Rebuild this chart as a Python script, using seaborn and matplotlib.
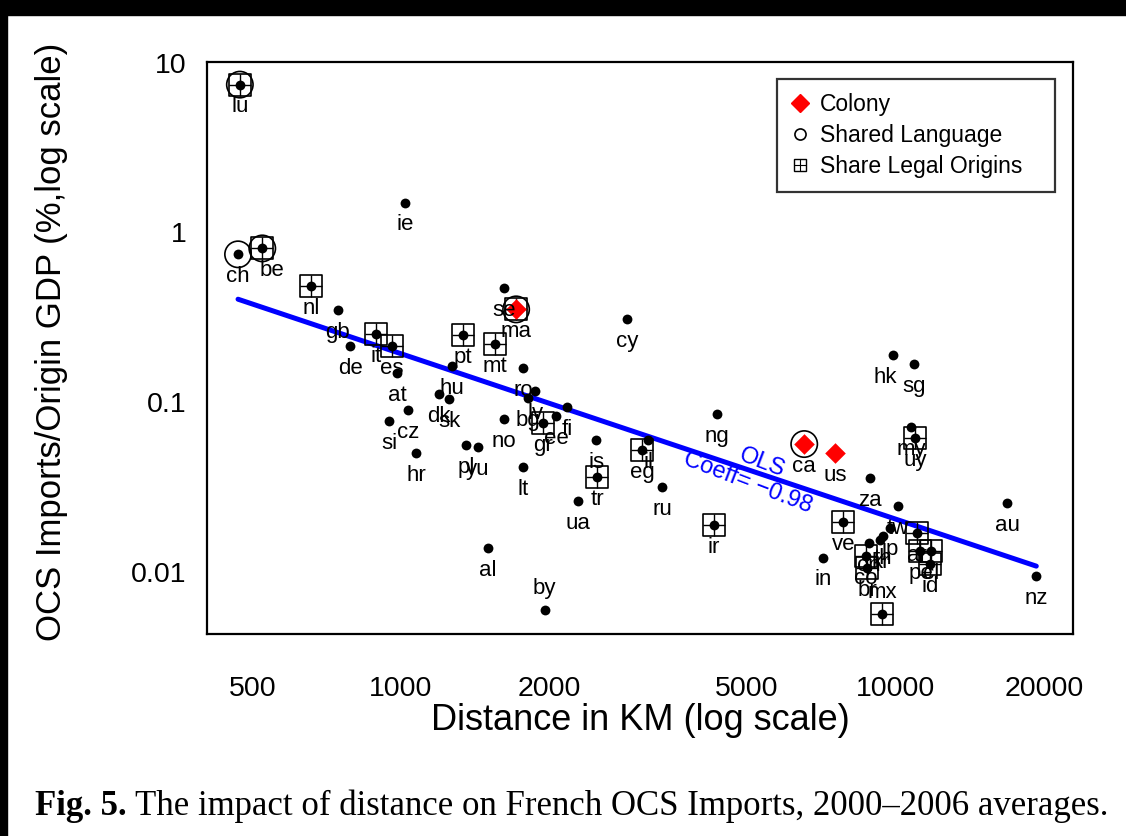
import matplotlib
matplotlib.use('Agg')
import numpy as np
import pandas as pd
import matplotlib.pyplot as plt
import seaborn as sns
from matplotlib.lines import Line2D
from matplotlib.patches import Rectangle
from matplotlib.legend_handler import HandlerTuple

sns.set_style('white')
plt.rcParams['font.family'] = ['Liberation Sans', 'DejaVu Sans']
plt.rcParams['text.color'] = 'black'
plt.rcParams['axes.labelcolor'] = 'black'
plt.rcParams['xtick.color'] = 'black'
plt.rcParams['ytick.color'] = 'black'

# Datos
codes = ['lu', 'ie', 'ch', 'be', 'nl', 'gb', 'de', 'it', 'es', 'at',
         'pt', 'mt', 'se', 'ma', 'hu', 'dk', 'sk', 'cz', 'si', 'hr',
         'pl', 'yu', 'no', 'ro', 'lv', 'bg', 'gr', 'ee', 'fi', 'lt',
         'cy', 'is', 'tr', 'ua', 'al', 'by', 'eg', 'il', 'ru', 'ng',
         'ir', 'ca', 'us', 'za', 've', 'in', 'hk', 'sg', 'my', 'uy',
         'au', 'nz', 'tw', 'jp', 'th', 'kr', 'cn', 'co', 'br', 'mx',
         'ar', 'pe', 'cl', 'id']
dist_km = [472, 1019, 468, 524, 658, 745, 789, 890, 959, 982,
           1336, 1549, 1616, 1710, 1268, 1194, 1251, 1033, 946, 1072,
           1355, 1432, 1617, 1765, 1868, 1808, 1937, 2059, 2168, 1765,
           2866, 2484, 2494, 2282, 1500, 1954, 3076, 3163, 3374, 4365,
           4290, 6546, 7563, 8897, 7853, 7140, 9910, 10920, 10770, 10970,
           16870, 19280, 10140, 9770, 9460, 9330, 8850, 8730, 8770, 9420,
           11080, 11250, 11830, 11780]
ocs_imports = [7.43, 1.50, 0.743, 0.805, 0.481, 0.348, 0.213, 0.251, 0.213, 0.148,
               0.248, 0.219, 0.469, 0.352, 0.163, 0.111, 0.104, 0.0897, 0.0773, 0.0501,
               0.0559, 0.0543, 0.0794, 0.158, 0.116, 0.1056, 0.0752, 0.0828, 0.0935, 0.0415,
               0.308, 0.0597, 0.0362, 0.0262, 0.0138, 0.00597, 0.0522, 0.0597, 0.0316, 0.0850,
               0.0189, 0.0566, 0.0501, 0.0357, 0.0197, 0.0121, 0.189, 0.168, 0.0713, 0.0614,
               0.0255, 0.00946, 0.0244, 0.0182, 0.0163, 0.0154, 0.0148, 0.0124, 0.01056, 0.00566,
               0.0169, 0.0133, 0.0133, 0.01115]
colony_codes = ['ma', 'ca', 'us']
shared_lang_codes = ['lu', 'ch', 'be', 'ma', 'ca']
legal_origin_codes = ['lu', 'be', 'nl', 'it', 'es', 'pt', 'mt', 'ma', 'gr', 'tr',
                      'eg', 'ir', 've', 'uy', 'co', 'br', 'mx', 'ar', 'pe', 'cl', 'id']
label_above = ['by', 'mx']
label_nudge_x = {'be': 7, 'hk': -6}

# Recta MCO (extremos)
ols_x = [468, 19300]
ols_y = [0.404, 0.0108]

xticks = [500, 1000, 2000, 5000, 10000, 20000]
yticks = [0.01, 0.1, 1, 10]
ytick_labels = ['0.01', '0.1', '1', '10']

df = pd.DataFrame({'code': codes, 'dist': dist_km, 'imp': ocs_imports})
df['colony'] = df['code'].isin(colony_codes)
df['lang'] = df['code'].isin(shared_lang_codes)
df['legal'] = df['code'].isin(legal_origin_codes)

fig = plt.figure(figsize=(11.26, 8.36), dpi=100)
ax = fig.add_axes([207 / 1126, 1 - 634 / 836, 866 / 1126, 572 / 836])
ax.set_xscale('log')
ax.set_yscale('log')

# Linea OLS
sns.lineplot(x=ols_x, y=ols_y, color='blue', linewidth=3.6, ax=ax, zorder=2)

# Puntos
sns.scatterplot(data=df[~df['colony']], x='dist', y='imp', color='black', s=50,
                linewidth=0, ax=ax, zorder=4)
sns.scatterplot(data=df[df['colony']], x='dist', y='imp', color='red', marker='D', s=110,
                linewidth=0, ax=ax, zorder=4)
sns.scatterplot(data=df[df['legal']], x='dist', y='imp', marker='s', s=250,
                facecolor='none', edgecolor='black', linewidth=1.2, ax=ax, zorder=3)
sns.scatterplot(data=df[df['legal']], x='dist', y='imp', marker='+', s=250,
                color='black', linewidth=1.0, ax=ax, zorder=3)
sns.scatterplot(data=df[df['lang']], x='dist', y='imp', marker='o', s=360,
                facecolor='none', edgecolor='black', linewidth=1.2, ax=ax, zorder=3)

# Etiquetas de paises
for _, r in df.iterrows():
    dy = 15 if r['code'] in label_above else -16
    dx = label_nudge_x.get(r['code'], 0)
    ax.annotate(r['code'], (r['dist'], r['imp']), xytext=(dx, dy), textcoords='offset points',
                ha='center', va='center', fontsize=16, color='black', zorder=5)

ax.text(5385, 0.0437, 'OLS', color='blue', fontsize=17, rotation=-21,
        ha='center', va='center', rotation_mode='anchor')
ax.text(5035, 0.0334, 'Coeff= \u22120.98', color='blue', fontsize=17, rotation=-21,
        ha='center', va='center', rotation_mode='anchor')

ax.set_xlim(405, 22900)
ax.set_ylim(0.0043, 10.1)
ax.set_xticks(xticks)
ax.set_xticklabels([str(t) for t in xticks])
ax.set_yticks(yticks)
ax.set_yticklabels(ytick_labels)
ax.minorticks_off()
ax.tick_params(direction='out', length=10, width=1.3, labelsize=20.5, colors='black')
ax.tick_params(axis='x', pad=20)
ax.tick_params(axis='y', pad=5)
for sp in ax.spines.values():
    sp.set_linewidth(1.6)
    sp.set_color('black')

ax.set_xlabel('Distance in KM (log scale)', fontsize=26)
ax.set_ylabel('OCS Imports/Origin GDP (%,log scale)', fontsize=25)
ax.xaxis.set_label_coords(0.5, -0.12)
ax.yaxis.set_label_coords(-0.16, 0.51)

# Leyenda
h_col = Line2D([], [], marker='D', color='red', ls='', markersize=9)
h_lang = Line2D([], [], marker='o', mfc='none', mec='black', ls='', markersize=8, mew=1.2)
h_sq = Line2D([], [], marker='s', mfc='none', mec='black', ls='', markersize=8, mew=1.0)
h_pl = Line2D([], [], marker='+', color='black', ls='', markersize=8, mew=0.8)
leg = ax.legend([h_col, h_lang, (h_sq, h_pl)],
                ['Colony', 'Shared Language', 'Share Legal Origins   '],
                handler_map={tuple: HandlerTuple(ndivide=1)},
                loc='upper right', bbox_to_anchor=(0.993, 0.99), fontsize=16.5,
                frameon=True, fancybox=False, edgecolor='black', handlelength=0.8,
                handletextpad=0.5, borderpad=0.6, labelspacing=0.35)
leg.get_frame().set_linewidth(1.6)

# Bordes negros de la captura
fig.add_artist(Rectangle((0, 1 - 15 / 836), 1, 15 / 836, transform=fig.transFigure,
                         color='black', zorder=10))
fig.add_artist(Rectangle((0, 0), 7 / 1126, 1, transform=fig.transFigure,
                         color='black', zorder=10))

# Pie de figura
t1 = fig.text(35 / 1126, 0.035, 'Fig. 5.', fontsize=25, fontweight='bold',
              family=['Liberation Serif', 'DejaVu Serif'], ha='left', va='center')
fig.canvas.draw()
bb = t1.get_window_extent()
fig.text((bb.x1 + 8) / 1126, 0.035,
         'The impact of distance on French OCS Imports, 2000\u20132006 averages.',
         fontsize=25, family=['Liberation Serif', 'DejaVu Serif'], ha='left', va='center')

fig.savefig('out.png', dpi=100)
